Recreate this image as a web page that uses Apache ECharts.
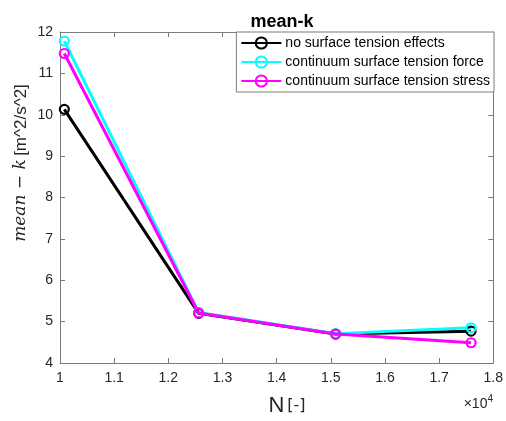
<!DOCTYPE html>
<html>
<head>
<meta charset="utf-8">
<script src="https://cdn.jsdelivr.net/npm/echarts@6/dist/echarts.min.js"></script>
<style>
  html, body { margin: 0; padding: 0; background: #fff; }
  #chart { width: 506px; height: 421px; }
</style>
</head>
<body>
<div id="chart"></div>
<script>
// Number of cells N and mean turbulent kinetic energy for each model
const cellCounts = [10080, 12560, 15090, 17590];
const noSurfaceTension = [10.13, 5.20, 4.70, 4.77];
const csfForce = [11.78, 5.22, 4.71, 4.85];
const cssStress = [11.48, 5.21, 4.70, 4.49];
const seriesNames = [
  'no surface tension effects',
  'continuum surface tension force',
  'continuum surface tension stress'
];
const seriesColors = ['#000000', '#00ffff', '#ff00ff'];
const xTicks = { min: 10000, max: 18000, step: 1000 };
const yTicks = { min: 4, max: 12, step: 1 };

const axisGray = '#262626';
const frameColor = '#7a7a7a';
const font = 'Liberation Sans, Arial, Helvetica, sans-serif';

const chart = echarts.init(document.getElementById('chart'), null, { renderer: 'canvas' });

function makeSeries(name, values, color) {
  return {
    name: name,
    type: 'line',
    data: cellCounts.map((n, i) => [n, values[i]]),
    symbol: 'circle',
    symbolSize: 9,
    lineStyle: { color: color, width: 3 },
    itemStyle: { color: 'rgba(255,255,255,0)', borderColor: color, borderWidth: 2.2 },
    emphasis: { disabled: true },
    animation: false
  };
}

const tickStyle = { show: true, inside: true, length: 5, lineStyle: { color: frameColor, width: 1 } };

chart.setOption({
  backgroundColor: '#fff',
  animation: false,
  title: {
    text: 'mean-k',
    left: 277,
    top: 8,
    textAlign: 'center',
    textStyle: { fontFamily: font, fontSize: 18, fontWeight: 'bold', color: '#000' }
  },
  grid: { left: 60, right: 12, top: 32, bottom: 58, containLabel: false },
  legend: {
    orient: 'vertical',
    right: 12,
    top: 32,
    padding: [4, 4, 4, 4],
    itemGap: 5,
    itemWidth: 40,
    itemHeight: 14,
    backgroundColor: '#fff',
    borderColor: frameColor,
    borderWidth: 1,
    borderRadius: 0,
    data: seriesNames,
    textStyle: { fontFamily: font, fontSize: 14, color: '#000', padding: [0, 0, 0, -1] }
  },
  xAxis: [
    {
      type: 'value',
      min: xTicks.min, max: xTicks.max, interval: xTicks.step,
      axisLine: { show: true, onZero: false, lineStyle: { color: frameColor, width: 1 } },
      axisTick: tickStyle,
      splitLine: { show: false },
      axisLabel: {
        margin: 8,
        fontFamily: font, fontSize: 14, color: axisGray,
        formatter: v => String(+(v / 1e4).toFixed(1))
      }
    },
    {
      type: 'value', position: 'top',
      min: xTicks.min, max: xTicks.max, interval: xTicks.step,
      axisLine: { show: true, onZero: false, lineStyle: { color: frameColor, width: 1 } },
      axisTick: tickStyle,
      axisLabel: { show: false },
      splitLine: { show: false }
    }
  ],
  yAxis: [
    {
      type: 'value',
      min: yTicks.min, max: yTicks.max, interval: yTicks.step,
      axisLine: { show: true, onZero: false, lineStyle: { color: frameColor, width: 1 } },
      axisTick: tickStyle,
      splitLine: { show: false },
      axisLabel: { margin: 7, fontFamily: font, fontSize: 14, color: axisGray }
    },
    {
      type: 'value', position: 'right',
      min: yTicks.min, max: yTicks.max, interval: yTicks.step,
      axisLine: { show: true, onZero: false, lineStyle: { color: frameColor, width: 1 } },
      axisTick: tickStyle,
      axisLabel: { show: false },
      splitLine: { show: false }
    }
  ],
  series: [
    makeSeries(seriesNames[0], noSurfaceTension, seriesColors[0]),
    makeSeries(seriesNames[1], csfForce, seriesColors[1]),
    makeSeries(seriesNames[2], cssStress, seriesColors[2])
  ],
  graphic: [
    {
      type: 'text',
      x: 21, y: 163,
      rotation: Math.PI / 2,
      style: {
        text: '{m|mean − k} {u|[m^2/s^2]}',
        align: 'center',
        verticalAlign: 'middle',
        rich: {
          m: { fontFamily: 'DejaVu Serif, Liberation Serif, serif', fontStyle: 'italic', fontSize: 17, fill: '#262626' },
          u: { fontFamily: font, fontSize: 17, fill: axisGray }
        }
      }
    },
    {
      type: 'text',
      x: 287, y: 406,
      style: {
        text: '{n|N}{b|[-]}',
        align: 'center',
        verticalAlign: 'middle',
        rich: {
          n: { fontFamily: font, fontSize: 22, fill: axisGray, padding: [0, 3, 0, 0] },
          b: { fontFamily: 'DejaVu Sans, sans-serif', fontSize: 16, fill: axisGray }
        }
      }
    },
    {
      type: 'text',
      x: 493, y: 404,
      style: {
        text: '{x|×10}{s|4}',
        align: 'right',
        verticalAlign: 'middle',
        rich: {
          x: { fontFamily: font, fontSize: 14, fill: axisGray },
          s: { fontFamily: font, fontSize: 10, fill: axisGray, verticalAlign: 'top', padding: [0, 0, 10, 0] }
        }
      }
    }
  ]
});
</script>
</body>
</html>
